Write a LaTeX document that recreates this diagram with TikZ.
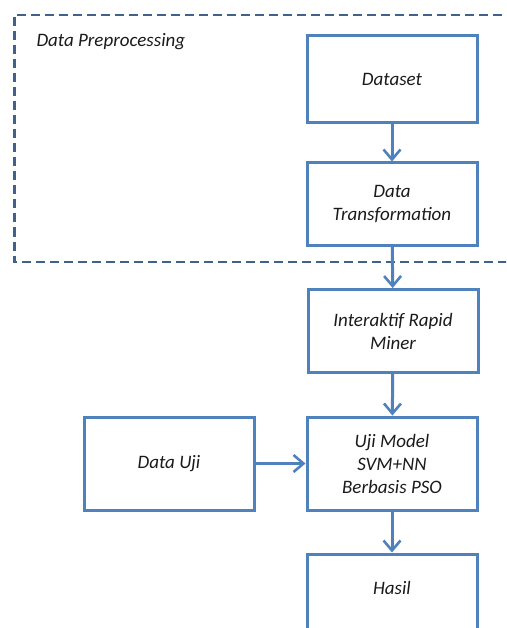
\documentclass[tikz,border=0pt]{standalone}
\usepackage{fontspec}
\setmainfont{Carlito}
\usetikzlibrary{arrows.meta}
\definecolor{boxblue}{HTML}{4F81BD}
\definecolor{dashblue}{HTML}{3F618C}
\definecolor{txt}{HTML}{1A1A1A}
\tikzset{
  stepbox/.style={draw=boxblue, line width=3pt, minimum width=170pt, inner sep=2pt,
    align=center, text=txt, font=\fontsize{19}{23}\selectfont\itshape},
  flow/.style={draw=boxblue, line width=3pt,
    -{Straight Barb[length=10pt,width=17pt,line width=2.6pt]}},
}
\begin{document}
\begin{tikzpicture}[x=1pt,y=-1pt]
\useasboundingbox (0,0) rectangle (506,628);
\clip (0,0) rectangle (506,628);
\draw[dashblue, line width=2.6pt, dash pattern=on 9pt off 5pt] (530,15) -- (14.5,15) -- (14.5,262) -- (530,262);
\node[anchor=west, text=txt, font=\fontsize{19}{23}\selectfont\itshape] (pre) at (33,42) {Data Preprocessing};
\node[stepbox, minimum height=87pt] (ds) at (392,79) {Dataset};
\node[stepbox, minimum height=82pt] (dt) at (392,204) {Data\\Transformation};
\node[stepbox, minimum height=83pt] (ir) at (393,331) {Interaktif Rapid\\Miner};
\node[stepbox, minimum height=93pt] (um) at (392,463.5) {Uji Model\\SVM+NN\\Berbasis PSO};
\node[stepbox, minimum height=93pt] (du) at (169,463.5) {Data Uji};
\node[stepbox, minimum height=100pt] (ha) at (392,604) {Hasil\\[10pt]};
\draw[flow] (ds) -- (dt);
\draw[flow] (dt) -- (ir);
\draw[flow] (ir) -- (um);
\draw[flow] (du) -- (um);
\draw[flow] (um) -- (ha);
\end{tikzpicture}
\end{document}
